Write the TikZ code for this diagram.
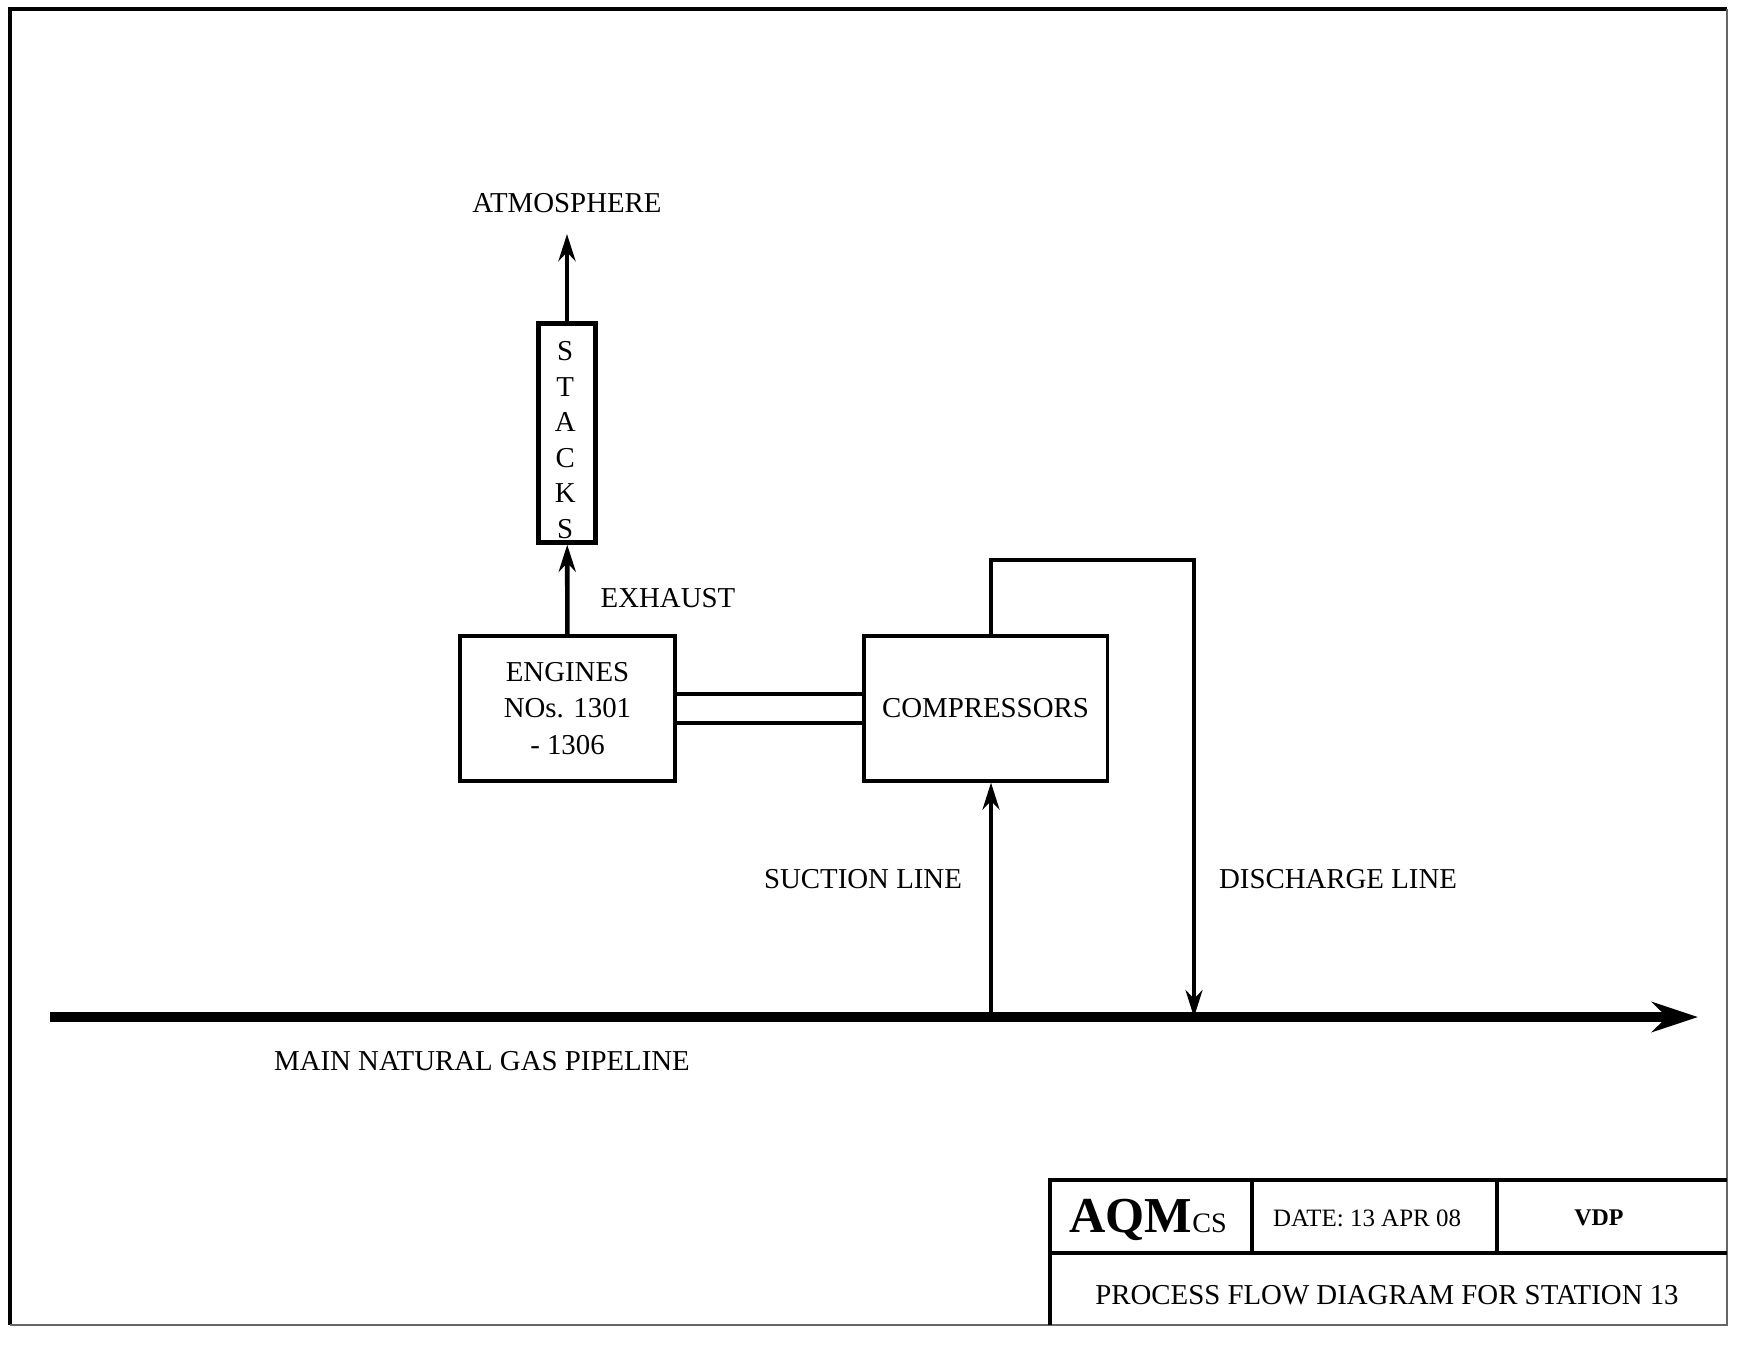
\documentclass[tikz,border=0pt]{standalone}
\usepackage{fontspec}
\setmainfont{Liberation Serif}
\usetikzlibrary{arrows.meta, positioning}

\begin{document}
\begin{tikzpicture}[x=0.01cm, y=-0.01cm, >={Stealth[length=0.27cm, width=0.17cm]},
  lbl/.style={font=\fontsize{8.2}{10.3}\selectfont, inner sep=0pt},
  unit/.style={draw, line width=0.9pt, inner sep=0pt, align=center, font=\fontsize{8.2}{10.3}\selectfont},
  flow/.style={->, line width=1pt}]
\useasboundingbox (0,0) rectangle (1746,1344);
\draw[line width=1.4pt] (10,1325) -- (10,9) -- (1727,9);
\draw[line width=0.5pt, black!60] (1727,9) -- (1727,1325) -- (10,1325);

\node[lbl] (atm) at (567,203) {ATMOSPHERE};
\node[unit, line width=1.2pt, minimum width=0.57cm, minimum height=2.19cm, font=\fontsize{8.2}{10.1}\selectfont] (stacks) at (567,433)
  {\hspace*{-0.035cm}\smash{\raisebox{-0.165cm}{\begin{tabular}{@{}c@{}}S\\T\\A\\C\\K\\S\end{tabular}}}};
\coordinate (atmtip) at (567,234);
\draw[flow, line width=1.3pt] (stacks) -- (atmtip);

\node[unit, minimum width=2.15cm, minimum height=1.45cm] (engines) at (567.5,708.5) {ENGINES\\NOs. 1301\\- 1306};
\draw[flow, line width=1.3pt] (engines) -- (stacks);
\node[lbl] (exhaust) at (668,598) {EXHAUST};

\node[unit, minimum width=2.43cm, minimum height=1.45cm] (compressors) at (985.5,708.5) {COMPRESSORS};
\draw[line width=0.9pt] ([yshift=0.145cm]engines.east) -- ([yshift=0.145cm]compressors.west);
\draw[line width=0.9pt] ([yshift=-0.145cm]engines.east) -- ([yshift=-0.145cm]compressors.west);

\coordinate (pipeL) at (50,1017);
\coordinate (pipeR) at (1698,1017);
\draw[line width=2.6pt, -{Stealth[length=0.46cm, width=0.3cm]}] (pipeL) -- (pipeR);
\node[lbl] (pipe) at (482,1061) {MAIN NATURAL GAS PIPELINE};

\coordinate (sucbot) at (991,1017);
\draw[flow] (sucbot) -- (sucbot |- compressors.south);
\node[lbl] (suction) at (863,879) {SUCTION LINE};

\coordinate (distop) at (1194,560);
\coordinate (disbot) at (1194,1017);
\draw[flow] (compressors.north -| sucbot) |- (distop) -- (disbot);
\node[lbl] (discharge) at (1338,879) {DISCHARGE LINE};

\draw[line width=0.9pt] (1050,1325) -- (1050,1180) -- (1727,1180);
\draw[line width=0.9pt] (1050,1253) -- (1727,1253);
\draw[line width=0.9pt] (1252,1180) -- (1252,1253) (1497,1180) -- (1497,1253);
\node[inner sep=0pt] (logo) at (1148,1220) {\fontsize{14.3}{14}\selectfont\bfseries AQM\fontsize{8}{8}\selectfont\mdseries CS};
\node[inner sep=0pt] (date) at (1367,1218) {\fontsize{7.1}{8}\selectfont DATE: 13 APR 08};
\node[inner sep=0pt] (vdp) at (1599,1218) {\fontsize{6.8}{8}\selectfont\bfseries VDP};
\node[inner sep=0pt] (title) at (1387,1295) {\fontsize{8.2}{10}\selectfont PROCESS FLOW DIAGRAM FOR STATION 13};
\end{tikzpicture}
\end{document}
